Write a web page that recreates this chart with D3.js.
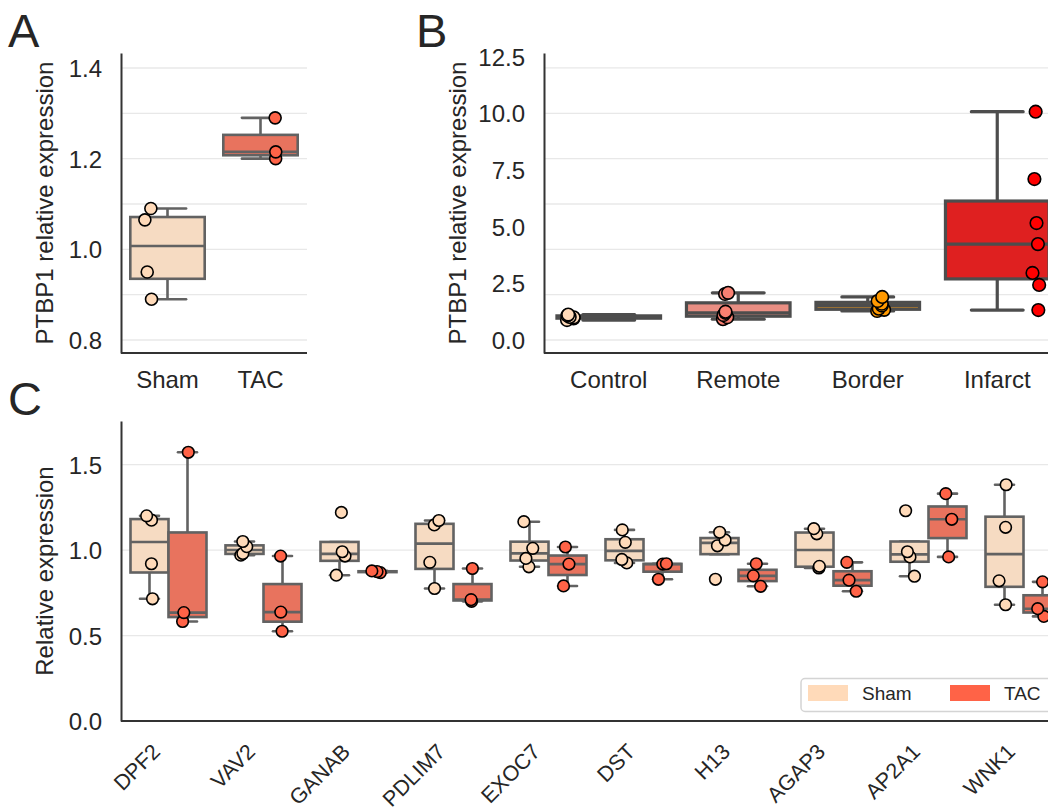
<!DOCTYPE html>
<html>
<head>
<meta charset="utf-8">
<script src="https://cdn.jsdelivr.net/npm/d3@7"></script>
<style>
  body { margin: 0; background: #fff; }
  text { font-family: "Liberation Sans", Arial, sans-serif; fill: #262626; }
</style>
</head>
<body>
<svg id="fig" width="1048" height="812"></svg>
<script>
// ---- data ----
// panel A
var groupsA = ["Sham", "TAC"];
var valuesA = [
  [0.89, 0.95, 1.065, 1.09],
  [1.20, 1.215, 1.29]
];
var ticksA = [0.8, 1.0, 1.2, 1.4];
var gridA = [0.8, 0.9, 1.0, 1.1, 1.2, 1.3, 1.4];

// panel B
var groupsB = ["Control", "Remote", "Border", "Infarct"];
var valuesB = [
  [0.88, 0.95, 1.0, 1.02, 1.08, 1.12],
  [0.92, 1.0, 1.1, 1.2, 1.25, 2.03, 2.08],
  [1.28, 1.33, 1.38, 1.52, 1.6, 1.72, 1.9],
  [1.32, 2.43, 2.96, 4.23, 5.16, 7.1, 10.07]
];
var ticksB = [0, 2.5, 5, 7.5, 10, 12.5];
var gridB = [0, 2, 4, 6, 8, 10, 12];

// panel C
var genes = ["DPF2", "VAV2", "GANAB", "PDLIM7", "EXOC7", "DST", "H13", "AGAP3", "AP2A1", "WNK1"];
var shamC = [
  [0.715, 0.92, 1.175, 1.20],
  [0.97, 0.98, 1.02, 1.05],
  [0.853, 0.965, 0.99, 1.22],
  [0.775, 0.928, 1.147, 1.173],
  [0.902, 0.951, 1.01, 1.166],
  [0.925, 0.945, 1.045, 1.118],
  [0.829, 1.025, 1.059, 1.104],
  [0.895, 0.905, 1.095, 1.125],
  [0.847, 0.96, 0.99, 1.23],
  [0.68, 0.82, 1.133, 1.382]
];
var tacC = [
  [0.582, 0.634, 1.572],
  [0.525, 0.637, 0.965],
  [0.868, 0.874, 0.878],
  [0.70, 0.71, 0.892],
  [0.79, 0.918, 1.018],
  [0.829, 0.918, 0.92],
  [0.788, 0.849, 0.92],
  [0.759, 0.824, 0.928],
  [0.96, 1.18, 1.33],
  [0.612, 0.657, 0.814]
];
var ticksC = [0, 0.5, 1.0, 1.5];
var gridC = [0.5, 1.0, 1.5];
var hueC = ["Sham", "TAC"];

// colours
var colorsA = ["#ffdab9", "#ff6347"];
var colorsB = ["#ffdab9", "#fa8072", "#ff9900", "#ff0000"];

var svg = d3.select("#fig");
var fmt = d3.format(".1f");
var rng = d3.randomUniform.source(d3.randomLcg(0.42));
var FONT = '"Liberation Sans", Arial, sans-serif';

// seaborn style desaturation of box fills
function desat(c) {
  var h = d3.hsl(c);
  h.s = h.s * 0.75;
  return h.formatHex();
}
function lineGray(cols) {
  var l = d3.min(cols, function (c) { return d3.hsl(desat(c)).l; }) * 0.6;
  return d3.rgb(l * 255, l * 255, l * 255).formatHex();
}

// box statistics (matplotlib rules, fliers not drawn)
function boxStats(vals) {
  var s = vals.slice().sort(d3.ascending);
  var q1 = d3.quantile(s, 0.25), med = d3.quantile(s, 0.5), q3 = d3.quantile(s, 0.75);
  var iqr = q3 - q1;
  var hi = d3.max(s.filter(function (v) { return v <= q3 + 1.5 * iqr; }));
  var lo = d3.min(s.filter(function (v) { return v >= q1 - 1.5 * iqr; }));
  if (hi < q3) hi = q3;
  if (lo > q1) lo = q1;
  return { q1: q1, med: med, q3: q3, lo: lo, hi: hi };
}

function drawBox(g, cx, w, vals, fill, stroke, lw, y) {
  var st = boxStats(vals);
  var b = g.append("g");
  b.append("line").attr("x1", cx).attr("x2", cx).attr("y1", y(st.q3)).attr("y2", y(st.hi))
    .attr("stroke", stroke).attr("stroke-width", lw);
  b.append("line").attr("x1", cx).attr("x2", cx).attr("y1", y(st.q1)).attr("y2", y(st.lo))
    .attr("stroke", stroke).attr("stroke-width", lw);
  [st.hi, st.lo].forEach(function (v) {
    b.append("line").attr("x1", cx - w / 4).attr("x2", cx + w / 4).attr("y1", y(v)).attr("y2", y(v))
      .attr("stroke", stroke).attr("stroke-width", lw).attr("stroke-linecap", "round");
  });
  b.append("rect").attr("x", cx - w / 2).attr("width", w)
    .attr("y", y(st.q3)).attr("height", Math.max(0, y(st.q1) - y(st.q3)))
    .attr("fill", fill).attr("stroke", stroke).attr("stroke-width", lw);
  b.append("line").attr("x1", cx - w / 2).attr("x2", cx + w / 2).attr("y1", y(st.med)).attr("y2", y(st.med))
    .attr("stroke", stroke).attr("stroke-width", lw);
}

function drawPoints(g, cx, jit, vals, fill, r, y) {
  var j = rng(-jit, jit);
  g.selectAll(null).data(vals).enter().append("circle")
    .attr("cx", function () { return cx + j(); })
    .attr("cy", function (d) { return y(d); })
    .attr("r", r)
    .attr("fill", fill).attr("stroke", "#000").attr("stroke-width", 1.6);
}

function drawFrame(g, x0, x1, y, ticks, grid, label, labelX) {
  g.append("g").selectAll("line").data(grid).enter().append("line")
    .attr("x1", x0).attr("x2", x1)
    .attr("y1", function (d) { return y(d); }).attr("y2", function (d) { return y(d); })
    .attr("stroke", "#e8e8e8").attr("stroke-width", 1.3);
  var ax = g.append("g").attr("transform", "translate(" + x0 + ",0)")
    .call(d3.axisLeft(y).tickValues(ticks).tickFormat(fmt).tickSize(0).tickPadding(19));
  ax.select(".domain").attr("stroke", "#333").attr("stroke-width", 2);
  ax.selectAll("text").attr("font-size", 24).attr("fill", "#262626")
    .attr("font-family", FONT).attr("dy", "0.36em");
  var r = y.range();
  g.append("text").attr("transform", "translate(" + labelX + "," + (r[0] + r[1]) / 2 + ") rotate(-90)")
    .attr("text-anchor", "middle").attr("font-size", 24).text(label);
}

function bottomAxis(g, x, yPos, x1) {
  var ax = g.append("g").attr("transform", "translate(0," + yPos + ")")
    .call(d3.axisBottom(x).tickSize(0).tickSizeOuter(0).tickPadding(18));
  ax.select(".domain").remove();
  g.append("line").attr("x1", x.range()[0]).attr("x2", x1).attr("y1", yPos).attr("y2", yPos)
    .attr("stroke", "#333").attr("stroke-width", 2);
  ax.selectAll("text").attr("font-size", 24).attr("fill", "#262626").attr("font-family", FONT);
  return ax;
}

// ---------- Panel A ----------
var gA = svg.append("g");
var xA = d3.scaleBand().domain(groupsA).range([121, 307]);
var yA = d3.scaleLinear().domain([0.7713, 1.4331]).range([353, 53]);
drawFrame(gA, 121, 307, yA, ticksA, gridA, "PTBP1 relative expression", 53);
var grayA = lineGray(colorsA);
groupsA.forEach(function (gname, i) {
  var cx = xA(gname) + xA.bandwidth() / 2;
  drawBox(gA, cx, xA.bandwidth() * 0.8, valuesA[i], desat(colorsA[i]), grayA, 2.6, yA);
});
groupsA.forEach(function (gname, i) {
  var bw = xA.bandwidth();
  var cx = xA(gname) + bw / 2 + (i === 0 ? -0.2 : 0.2) * bw;
  drawPoints(gA, cx, bw * 0.06, valuesA[i], colorsA[i], 6, yA);
});
bottomAxis(gA, xA, 353, 307);

// ---------- Panel B ----------
var gB = svg.append("g");
var xB = d3.scaleBand().domain(groupsB).range([544, 1062]);
var yB = d3.scaleLinear().domain([-0.573, 12.66]).range([353, 53]);
drawFrame(gB, 544, 1062, yB, ticksB, gridB, "PTBP1 relative expression", 466);
var grayB = lineGray(colorsB);
groupsB.forEach(function (gname, i) {
  var cx = xB(gname) + xB.bandwidth() / 2;
  drawBox(gB, cx, xB.bandwidth() * 0.8, valuesB[i], desat(colorsB[i]), grayB, 3.2, yB);
});
groupsB.forEach(function (gname, i) {
  var bw = xB.bandwidth();
  var off = (-0.3 + 0.2 * i) * bw;
  drawPoints(gB, xB(gname) + bw / 2 + off, bw * 0.03, valuesB[i], colorsB[i], 6.3, yB);
});
bottomAxis(gB, xB, 353, 1062);

// ---------- Panel C ----------
var gC = svg.append("g");
var xC = d3.scaleBand().domain(genes).range([121, 1071]);
var yC = d3.scaleLinear().domain([0, 1.755]).range([721, 421]);
drawFrame(gC, 121, 1071, yC, ticksC, gridC, "Relative expression", 53);
var grayC = lineGray(colorsA);
var bwC = xC.bandwidth();
genes.forEach(function (gname, i) {
  var c = xC(gname) + bwC / 2;
  drawBox(gC, c - 0.2 * bwC, 0.4 * bwC, shamC[i], desat(colorsA[0]), grayC, 2.6, yC);
  drawBox(gC, c + 0.2 * bwC, 0.4 * bwC, tacC[i], desat(colorsA[1]), grayC, 2.6, yC);
});
genes.forEach(function (gname, i) {
  var c = xC(gname) + bwC / 2;
  drawPoints(gC, c - 0.2 * bwC, bwC * 0.06, shamC[i], colorsA[0], 5.8, yC);
  drawPoints(gC, c + 0.2 * bwC, bwC * 0.06, tacC[i], colorsA[1], 5.8, yC);
});
var axC = bottomAxis(gC, xC, 721, 1071);
axC.selectAll("text")
  .attr("font-size", 21.5)
  .attr("text-anchor", "end").attr("dy", null).attr("y", null)
  .attr("transform", "translate(-7,32) rotate(-45)");

// legend
var leg = gC.append("g");
leg.append("rect").attr("x", 801).attr("y", 678.5).attr("width", 262).attr("height", 33)
  .attr("rx", 4).attr("fill", "#fff").attr("stroke", "#d4d4d4").attr("stroke-width", 1.5);
hueC.forEach(function (h, i) {
  var lx = 808 + i * 142;
  leg.append("rect").attr("x", lx).attr("y", 685).attr("width", 40).attr("height", 16)
    .attr("fill", colorsA[i]);
  leg.append("text").attr("x", lx + 54).attr("y", 699.5).attr("font-size", 19).text(h);
});

// panel letters
[["A", 8, 47], ["B", 416, 47], ["C", 8, 415]].forEach(function (p) {
  svg.append("text").attr("x", p[1]).attr("y", p[2]).attr("font-size", 47).text(p[0]);
});
</script>
</body>
</html>
